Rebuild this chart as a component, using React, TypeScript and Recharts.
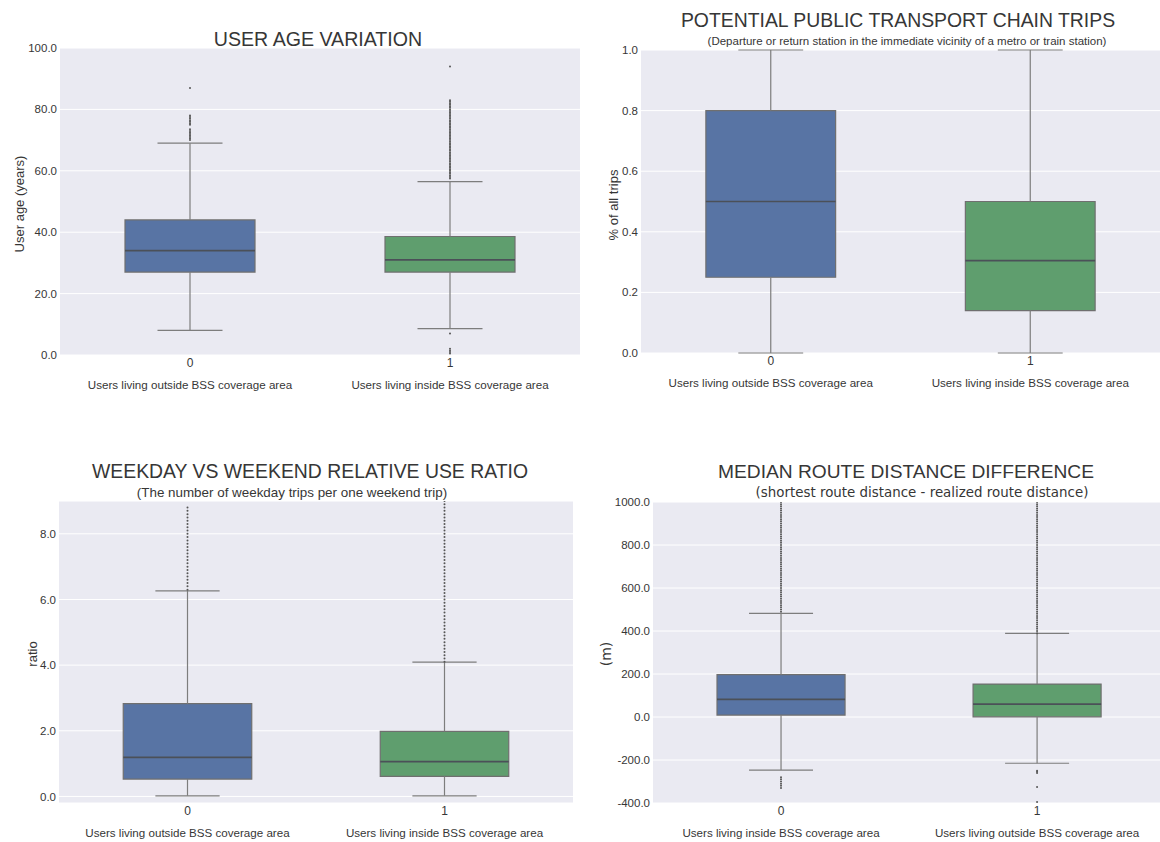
import React from "react";
import {
  ComposedChart,
  XAxis,
  YAxis,
  CartesianGrid,
  ReferenceArea,
  ReferenceLine,
  Scatter,
} from "recharts";

const BLUE = "#5874a4";
const GREEN = "#5f9e6e";
const LINE = "#7d7d7d";
const MEDIAN = "#4b5058";
const BG = "#eaeaf2";
const TEXT = "#363636";
const FONT = '"Liberation Sans", Arial, sans-serif';
const DEJAVU = '"DejaVu Sans", sans-serif';

const OUTSIDE = "Users living outside BSS coverage area";
const INSIDE = "Users living inside BSS coverage area";

// box stats: [low whisker, q1, median, q3, high whisker]
const AGE_BOX_0 = [8, 27, 34, 44, 69];
const AGE_BOX_1 = [8.6, 27, 31, 38.6, 56.5];
const AGE_OUT_0 = [70, 70.5, 71, 71.5, 72, 72.5, 73, 73.5, 75, 75.5, 76, 76.5, 77, 77.5, 78, 87];
const AGE_OUT_1 = [
  0.5, 1, 1.5, 2, 7, 57.5, 58, 58.5, 59, 59.5, 60, 60.5, 61, 61.5, 62, 62.5, 63, 63.5, 64, 64.5, 65,
  65.5, 66, 66.5, 67, 67.5, 68, 68.5, 69, 69.5, 70, 70.5, 71, 71.5, 72, 72.5, 73, 73.5, 74, 74.5, 75,
  75.5, 76, 76.5, 77, 77.5, 78, 78.5, 79, 79.5, 80, 80.5, 81, 81.5, 82, 82.5, 83, 94,
];
const AGE_TICKS = [0, 20, 40, 60, 80, 100];

const CHAIN_BOX_0 = [0, 0.25, 0.5, 0.8, 1];
const CHAIN_BOX_1 = [0, 0.14, 0.305, 0.5, 1];
const CHAIN_TICKS = [0, 0.2, 0.4, 0.6, 0.8, 1];

const RATIO_BOX_0 = [0.02, 0.53, 1.19, 2.83, 6.26];
const RATIO_BOX_1 = [0.02, 0.61, 1.06, 1.98, 4.09];
const RATIO_OUT_0 = [
  6.3, 6.4, 6.5, 6.6, 6.7, 6.8, 6.9, 7.0, 7.1, 7.2, 7.3, 7.4, 7.5, 7.6, 7.7, 7.8, 7.9, 8.0, 8.1, 8.2,
  8.3, 8.4, 8.5, 8.6, 8.7, 8.8,
];
const RATIO_OUT_1 = [
  4.1, 4.2, 4.3, 4.4, 4.5, 4.6, 4.7, 4.8, 4.9, 5.0, 5.1, 5.2, 5.3, 5.4, 5.5, 5.6, 5.7, 5.8, 5.9, 6.0,
  6.1, 6.2, 6.3, 6.4, 6.5, 6.6, 6.7, 6.8, 6.9, 7.0, 7.1, 7.2, 7.3, 7.4, 7.5, 7.6, 7.7, 7.8, 7.9, 8.0,
  8.1, 8.2, 8.3, 8.4, 8.5, 8.6, 8.7, 8.8, 8.9, 9.0,
];
const RATIO_TICKS = [0, 2, 4, 6, 8];

const ROUTE_BOX_0 = [-247, 9, 82, 197, 482];
const ROUTE_BOX_1 = [-215, 1, 60, 153, 389];
const ROUTE_OUT_0 = [
  -330, -320, -310, -300, -290, -280, 490, 500, 510, 520, 530, 540, 550, 560, 570, 580, 590, 600, 610,
  620, 630, 640, 650, 660, 670, 680, 690, 700, 710, 720, 730, 740, 750, 760, 770, 780, 790, 800, 810,
  820, 830, 840, 850, 860, 870, 880, 890, 900, 910, 920, 930, 940, 950, 960, 970, 980, 990, 1000,
];
const ROUTE_OUT_1 = [
  -395, -325, -260, -255, -250, 390, 400, 410, 420, 430, 440, 450, 460, 470, 480, 490, 500, 510, 520,
  530, 540, 550, 560, 570, 580, 590, 600, 610, 620, 630, 640, 650, 660, 670, 680, 690, 700, 710, 720,
  730, 740, 750, 760, 770, 780, 790, 800, 810, 820, 830, 840, 850, 860, 870, 880, 890, 900, 910, 920,
  930, 940, 950, 960, 970, 980, 990, 1000,
];
const ROUTE_TICKS = [-400, -200, 0, 200, 400, 600, 800, 1000];

const COLORS = [BLUE, GREEN];

type PanelProps = {
  x: number;
  y: number;
  width: number;
  height: number;
  plot: { left: number; top: number; right: number; bottom: number };
  xMax: number;
  yDomain: [number, number];
  yTicks: number[];
  boxes: number[][];
  outliers: number[][];
  labels: string[];
};

const dot = (p: any) => <circle cx={p.cx} cy={p.cy} r={1} fill="#555" />;

function Panel(props: PanelProps) {
  const { x, y, width, height, plot, xMax, yDomain, yTicks, boxes, outliers, labels } = props;
  const points = outliers.flatMap((list, i) => list.map((v) => ({ x: i, y: v })));

  const categoryTick = (t: any) => (
    <g>
      <text x={t.x} y={t.y + 12} textAnchor="middle" fontSize={12} fill={TEXT} fontFamily={FONT}>
        {t.payload.value}
      </text>
      <text x={t.x} y={t.y + 34} textAnchor="middle" fontSize={11.6} fill={TEXT} fontFamily={FONT}>
        {labels[t.payload.value]}
      </text>
    </g>
  );

  return (
    <div style={{ position: "absolute", left: x, top: y }}>
      <ComposedChart
        width={width}
        height={height}
        margin={{ top: plot.top - y, right: x + width - plot.right, left: 0, bottom: 0 }}
      >
        <CartesianGrid vertical={false} stroke="#ffffff" fill={BG} />
        <XAxis
          type="number"
          dataKey="x"
          domain={[-0.5, xMax]}
          ticks={[0, 1]}
          interval={0}
          allowDataOverflow
          axisLine={false}
          tickLine={false}
          tickSize={0}
          tickMargin={0}
          height={y + height - plot.bottom}
          tick={categoryTick}
        />
        <YAxis
          type="number"
          dataKey="y"
          domain={yDomain}
          ticks={yTicks}
          interval={0}
          allowDataOverflow
          axisLine={false}
          tickLine={false}
          tickSize={0}
          tickMargin={3}
          width={plot.left - x}
          tick={{ fontSize: 11.5, fill: TEXT, fontFamily: FONT }}
          tickFormatter={(v: number) => v.toFixed(1)}
        />
        {boxes.map((b, i) => [
          <ReferenceLine
            key={`wl${i}`}
            segment={[{ x: i, y: b[0] }, { x: i, y: b[1] }]}
            stroke={LINE}
            strokeWidth={1.2}
          />,
          <ReferenceLine
            key={`wh${i}`}
            segment={[{ x: i, y: b[3] }, { x: i, y: b[4] }]}
            stroke={LINE}
            strokeWidth={1.2}
          />,
          <ReferenceLine
            key={`cl${i}`}
            segment={[{ x: i - 0.125, y: b[0] }, { x: i + 0.125, y: b[0] }]}
            stroke={LINE}
            strokeWidth={1.2}
          />,
          <ReferenceLine
            key={`ch${i}`}
            segment={[{ x: i - 0.125, y: b[4] }, { x: i + 0.125, y: b[4] }]}
            stroke={LINE}
            strokeWidth={1.2}
          />,
          <ReferenceArea
            key={`box${i}`}
            x1={i - 0.25}
            x2={i + 0.25}
            y1={b[1]}
            y2={b[3]}
            fill={COLORS[i]}
            fillOpacity={1}
            stroke="#6f6f6f"
            strokeWidth={1.2}
          />,
          <ReferenceLine
            key={`md${i}`}
            segment={[{ x: i - 0.25, y: b[2] }, { x: i + 0.25, y: b[2] }]}
            stroke={MEDIAN}
            strokeWidth={1.6}
          />,
        ])}
        <Scatter data={points} dataKey="y" isAnimationActive={false} shape={dot} />
      </ComposedChart>
    </div>
  );
}

function Text(props: {
  x: number;
  y: number;
  size: number;
  children: React.ReactNode;
  font?: string;
  rotate?: boolean;
}) {
  return (
    <div
      style={{
        position: "absolute",
        left: props.x,
        top: props.y,
        transform: `translate(-50%, -50%)${props.rotate ? " rotate(-90deg)" : ""}`,
        whiteSpace: "nowrap",
        fontSize: props.size,
        fontFamily: props.font ?? FONT,
        color: TEXT,
        lineHeight: 1,
      }}
    >
      {props.children}
    </div>
  );
}

export default function App() {
  return (
    <div
      style={{
        position: "absolute",
        left: 0,
        top: 0,
        width: 1160,
        height: 842,
        background: "#ffffff",
        overflow: "hidden",
      }}
    >
      <Panel
        x={0}
        y={40}
        width={585}
        height={360}
        plot={{ left: 60, top: 48, right: 580, bottom: 355 }}
        xMax={1.5}
        yDomain={[0, 100]}
        yTicks={AGE_TICKS}
        boxes={[AGE_BOX_0, AGE_BOX_1]}
        outliers={[AGE_OUT_0, AGE_OUT_1]}
        labels={[OUTSIDE, INSIDE]}
      />
      <Panel
        x={585}
        y={40}
        width={575}
        height={360}
        plot={{ left: 641, top: 50, right: 1160, bottom: 353 }}
        xMax={1.5}
        yDomain={[0, 1]}
        yTicks={CHAIN_TICKS}
        boxes={[CHAIN_BOX_0, CHAIN_BOX_1]}
        outliers={[[], []]}
        labels={[OUTSIDE, INSIDE]}
      />
      <Panel
        x={0}
        y={490}
        width={580}
        height={352}
        plot={{ left: 59, top: 501, right: 573, bottom: 803 }}
        xMax={1.5}
        yDomain={[-0.2, 9]}
        yTicks={RATIO_TICKS}
        boxes={[RATIO_BOX_0, RATIO_BOX_1]}
        outliers={[RATIO_OUT_0, RATIO_OUT_1]}
        labels={[OUTSIDE, INSIDE]}
      />
      <Panel
        x={590}
        y={490}
        width={570}
        height={352}
        plot={{ left: 653, top: 502, right: 1160, bottom: 803 }}
        xMax={1.48}
        yDomain={[-400, 1000]}
        yTicks={ROUTE_TICKS}
        boxes={[ROUTE_BOX_0, ROUTE_BOX_1]}
        outliers={[ROUTE_OUT_0, ROUTE_OUT_1]}
        labels={[INSIDE, OUTSIDE]}
      />

      <Text x={318} y={40} size={19.6}>USER AGE VARIATION</Text>
      <Text x={19} y={204} size={13} rotate>User age (years)</Text>

      <Text x={898} y={21} size={19.4}>POTENTIAL PUBLIC TRANSPORT CHAIN TRIPS</Text>
      <Text x={907} y={42} size={11.5}>
        (Departure or return station in the immediate vicinity of a metro or train station)
      </Text>
      <Text x={613} y={205} size={13} rotate>% of all trips</Text>

      <Text x={310} y={472} size={19.4}>WEEKDAY VS WEEKEND RELATIVE USE RATIO</Text>
      <Text x={292} y={493} size={13.4}>(The number of weekday trips per one weekend trip)</Text>
      <Text x={32} y={654} size={13} rotate>ratio</Text>

      <Text x={906} y={472} size={19.2}>MEDIAN ROUTE DISTANCE DIFFERENCE</Text>
      <Text x={922} y={493} size={13.4} font={DEJAVU}>
        (shortest route distance - realized route distance)
      </Text>
      <Text x={606} y={654} size={14} font={DEJAVU} rotate>(m)</Text>
    </div>
  );
}
